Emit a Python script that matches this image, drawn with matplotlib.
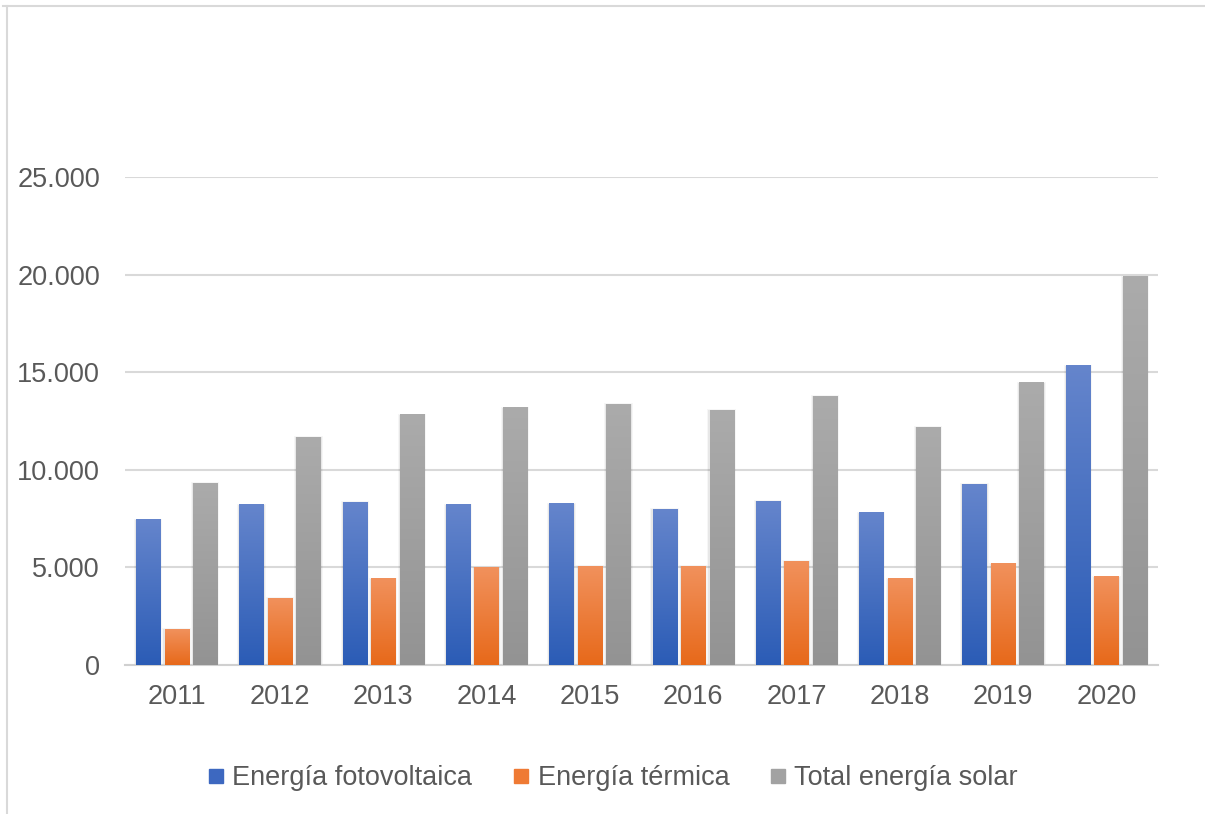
import numpy as np
import matplotlib.pyplot as plt
from matplotlib.lines import Line2D
from matplotlib.colors import LinearSegmentedColormap

plt.rcParams['font.family'] = ['Liberation Sans', 'DejaVu Sans']

years = ["2011", "2012", "2013", "2014", "2015", "2016", "2017", "2018", "2019", "2020"]
fotovoltaica = [7430, 8200, 8350, 8200, 8250, 7990, 8400, 7790, 9270, 15320]
termica = [1840, 3430, 4410, 4990, 5070, 5070, 5325, 4410, 5175, 4510]
total_solar = [9320, 11680, 12810, 13170, 13370, 13060, 13780, 12190, 14450, 19880]

series_names = ["Energía fotovoltaica", "Energía térmica", "Total energía solar"]
# gradient (top, bottom) per series
grads = [("#6585cc", "#2b5cb6"), ("#f1915c", "#e7691a"), ("#ababab", "#939393")]
legend_cols = ["#3d68c0", "#ef7a34", "#a2a2a2"]

fig = plt.figure(figsize=(12.05, 8.14), dpi=100)
ax = fig.add_axes([125 / 1205, 1 - 665 / 814, (1158 - 125) / 1205, (665 - 177) / 814])

x = np.arange(len(years))
width = 0.235
step = 0.276

grad_img = np.linspace(1, 0, 256).reshape(-1, 1)
for i, vals in enumerate([fotovoltaica, termica, total_solar]):
    cmap = LinearSegmentedColormap.from_list("g%d" % i, [grads[i][1], grads[i][0]])
    offs = (i - 1) * step
    for xi, v in zip(x, vals):
        x0 = xi + offs - width / 2
        # soft shadow
        for k, a in enumerate([0.06, 0.035]):
            pad = 0.01 * (k + 1)
            ax.add_patch(plt.Rectangle((x0 - pad, 0), width + 2 * pad, v + 15 * (k + 1),
                                       facecolor="#000000", alpha=a, lw=0, zorder=2))
        ax.imshow(grad_img, extent=[x0, x0 + width, 0, v], cmap=cmap, aspect="auto",
                  zorder=3, interpolation="bilinear", vmin=0, vmax=1)

ax.set_xlim(-0.5, len(years) - 0.5)
ax.set_ylim(0, 25000)
ax.set_aspect("auto")

yt = [0, 5000, 10000, 15000, 20000, 25000]
ax.set_yticks(yt)
ax.set_yticklabels(["0", "5.000", "10.000", "15.000", "20.000", "25.000"])
ax.set_xticks(x)
ax.set_xticklabels(years)
ax.tick_params(axis="both", length=0, labelsize=19.5, labelcolor="#595959")
ax.tick_params(axis="y", pad=18)
ax.tick_params(axis="x", pad=14)
ax.yaxis.grid(True, color="#d9d9d9", linewidth=1.5, zorder=1)
ax.set_axisbelow(True)
for s in ["top", "right", "left"]:
    ax.spines[s].set_visible(False)
ax.spines["bottom"].set_color("#d0d0d0")
ax.spines["bottom"].set_linewidth(1.5)

handles = [Line2D([], [], marker="s", linestyle="none", markersize=10,
                  markerfacecolor=c, markeredgecolor=c) for c in legend_cols]
fig.legend(handles, series_names, loc="center", bbox_to_anchor=(613 / 1205, 1 - 778 / 814),
           ncol=3, frameon=False, fontsize=19.5, labelcolor="#595959",
           handletextpad=0.3, columnspacing=1.5, handlelength=0.6)

# outer chart border (top and left edges)
fig.add_artist(Line2D([3 / 1205, 1], [1 - 6 / 814, 1 - 6 / 814], color="#d9d9d9", lw=1.5))
fig.add_artist(Line2D([7 / 1205, 7 / 1205], [0, 1 - 6 / 814], color="#d9d9d9", lw=1.5))

fig.savefig("out.png", dpi=100)
